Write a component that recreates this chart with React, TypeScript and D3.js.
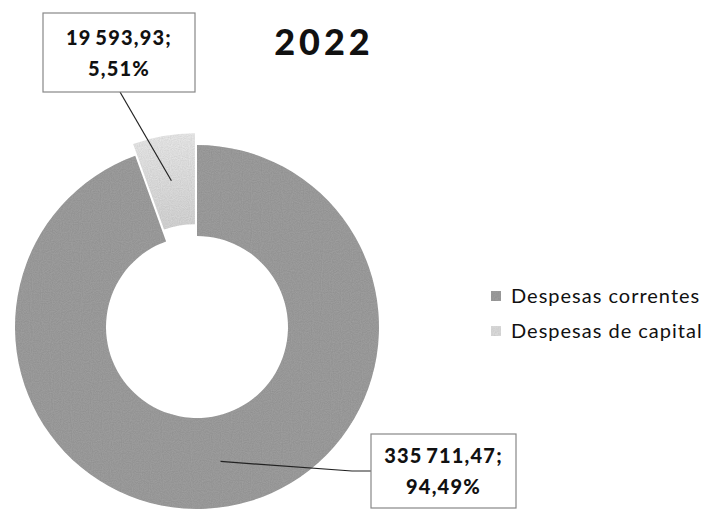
import React from "react";
import * as d3 from "d3";

const title = "2022";
const categories = ["Despesas correntes", "Despesas de capital"];
const values = [335711.47, 19593.93];
const percents = [94.49, 5.51];
const colors = ["#a5a5a5", "#e6e6e6"];

const W = 704;
const H = 509;
const cx = 197;
const cy = 327;
const R = 182;
const r0 = 91;
const explode = [0, 12];

const locale = d3.formatLocale({ decimal: ",", thousands: "\u2009", grouping: [3], currency: ["", ""] });
const fmtVal = locale.format(",.2f");
const fmtPct = locale.format(".2f");

// label box layout [x, y, w, h]
const boxes = [
  [371, 434, 145, 74],
  [43, 13, 152, 79],
];

export default function App() {
  const pie = d3.pie<number>().sort(null).startAngle(0).endAngle(2 * Math.PI);
  const arcs = pie(values);
  const arc = d3.arc<d3.PieArcDatum<number>>().innerRadius(r0).outerRadius(R);
  const font = "Lato, 'Open Sans', sans-serif";

  return (
    <svg width={W} height={H} style={{ position: "absolute", left: 0, top: 0, background: "#fff" }}>
      <defs>
        <filter id="noise" x="0" y="0" width="100%" height="100%">
          <feTurbulence type="fractalNoise" baseFrequency="0.9" numOctaves="1" seed="3" result="t" />
          <feColorMatrix in="t" type="saturate" values="0" result="g" />
          <feComponentTransfer in="g" result="g2">
            <feFuncA type="linear" slope="0" intercept="0.35" />
          </feComponentTransfer>
          <feComposite in="g2" in2="SourceGraphic" operator="in" result="n" />
          <feBlend in="SourceGraphic" in2="n" mode="multiply" />
        </filter>
        <linearGradient id="capGrad" x1="0" y1="0" x2="0" y2="1">
          <stop offset="0" stopColor="#f4f4f4" />
          <stop offset="1" stopColor="#dedede" />
        </linearGradient>
      </defs>
      <text x={324} y={55} textAnchor="middle" fontFamily={font} fontWeight={900} fontSize={36} letterSpacing={4} fill="#111">
        {title}
      </text>
      {arcs.map((a, i) => {
        const mid = (a.startAngle + a.endAngle) / 2;
        const dx = Math.sin(mid) * explode[i];
        const dy = -Math.cos(mid) * explode[i];
        return (
          <g key={i} transform={`translate(${cx + dx},${cy + dy})`}>
            <path d={arc(a) || ""} fill={i === 1 ? "url(#capGrad)" : colors[i]} filter="url(#noise)" />
          </g>
        );
      })}
      {arcs.map((a, i) => {
        const mid = (a.startAngle + a.endAngle) / 2;
        const dx = Math.sin(mid) * explode[i];
        const dy = -Math.cos(mid) * explode[i];
        const [px, py] = arc.centroid(a);
        const sx = cx + dx + px;
        const sy = cy + dy + py;
        const [bx, by, bw, bh] = boxes[i];
        const pts =
          i === 0
            ? [[sx, sy], [bx - 19, by + 37], [bx, by + 37]]
            : [[sx, sy], [bx + 77, by + bh]];
        return (
          <g key={"l" + i}>
            <polyline points={pts.map((p) => p.join(",")).join(" ")} fill="none" stroke="#222" strokeWidth={1.2} />
            <rect x={bx} y={by} width={bw} height={bh} fill="#fff" stroke="#888" strokeWidth={1.2} />
            <text x={bx + bw / 2} y={by + bh / 2 - 8} textAnchor="middle" fontFamily={font} fontWeight={900} fontSize={20} letterSpacing={1.2} fill="#111">
              {fmtVal(values[i]) + ";"}
            </text>
            <text x={bx + bw / 2} y={by + bh / 2 + 23} textAnchor="middle" fontFamily={font} fontWeight={900} fontSize={20} letterSpacing={1.2} fill="#111">
              {fmtPct(percents[i]) + "%"}
            </text>
          </g>
        );
      })}
      {categories.map((c, i) => (
        <g key={"lg" + i} transform={`translate(491,${296 + i * 35})`}>
          <rect x={0} y={-5} width={10} height={10} fill={colors[i]} filter="url(#noise)" />
          <text x={20} y={0} dy="0.35em" fontFamily={font} fontSize={20} letterSpacing={1} fill="#111">
            {c}
          </text>
        </g>
      ))}
    </svg>
  );
}
